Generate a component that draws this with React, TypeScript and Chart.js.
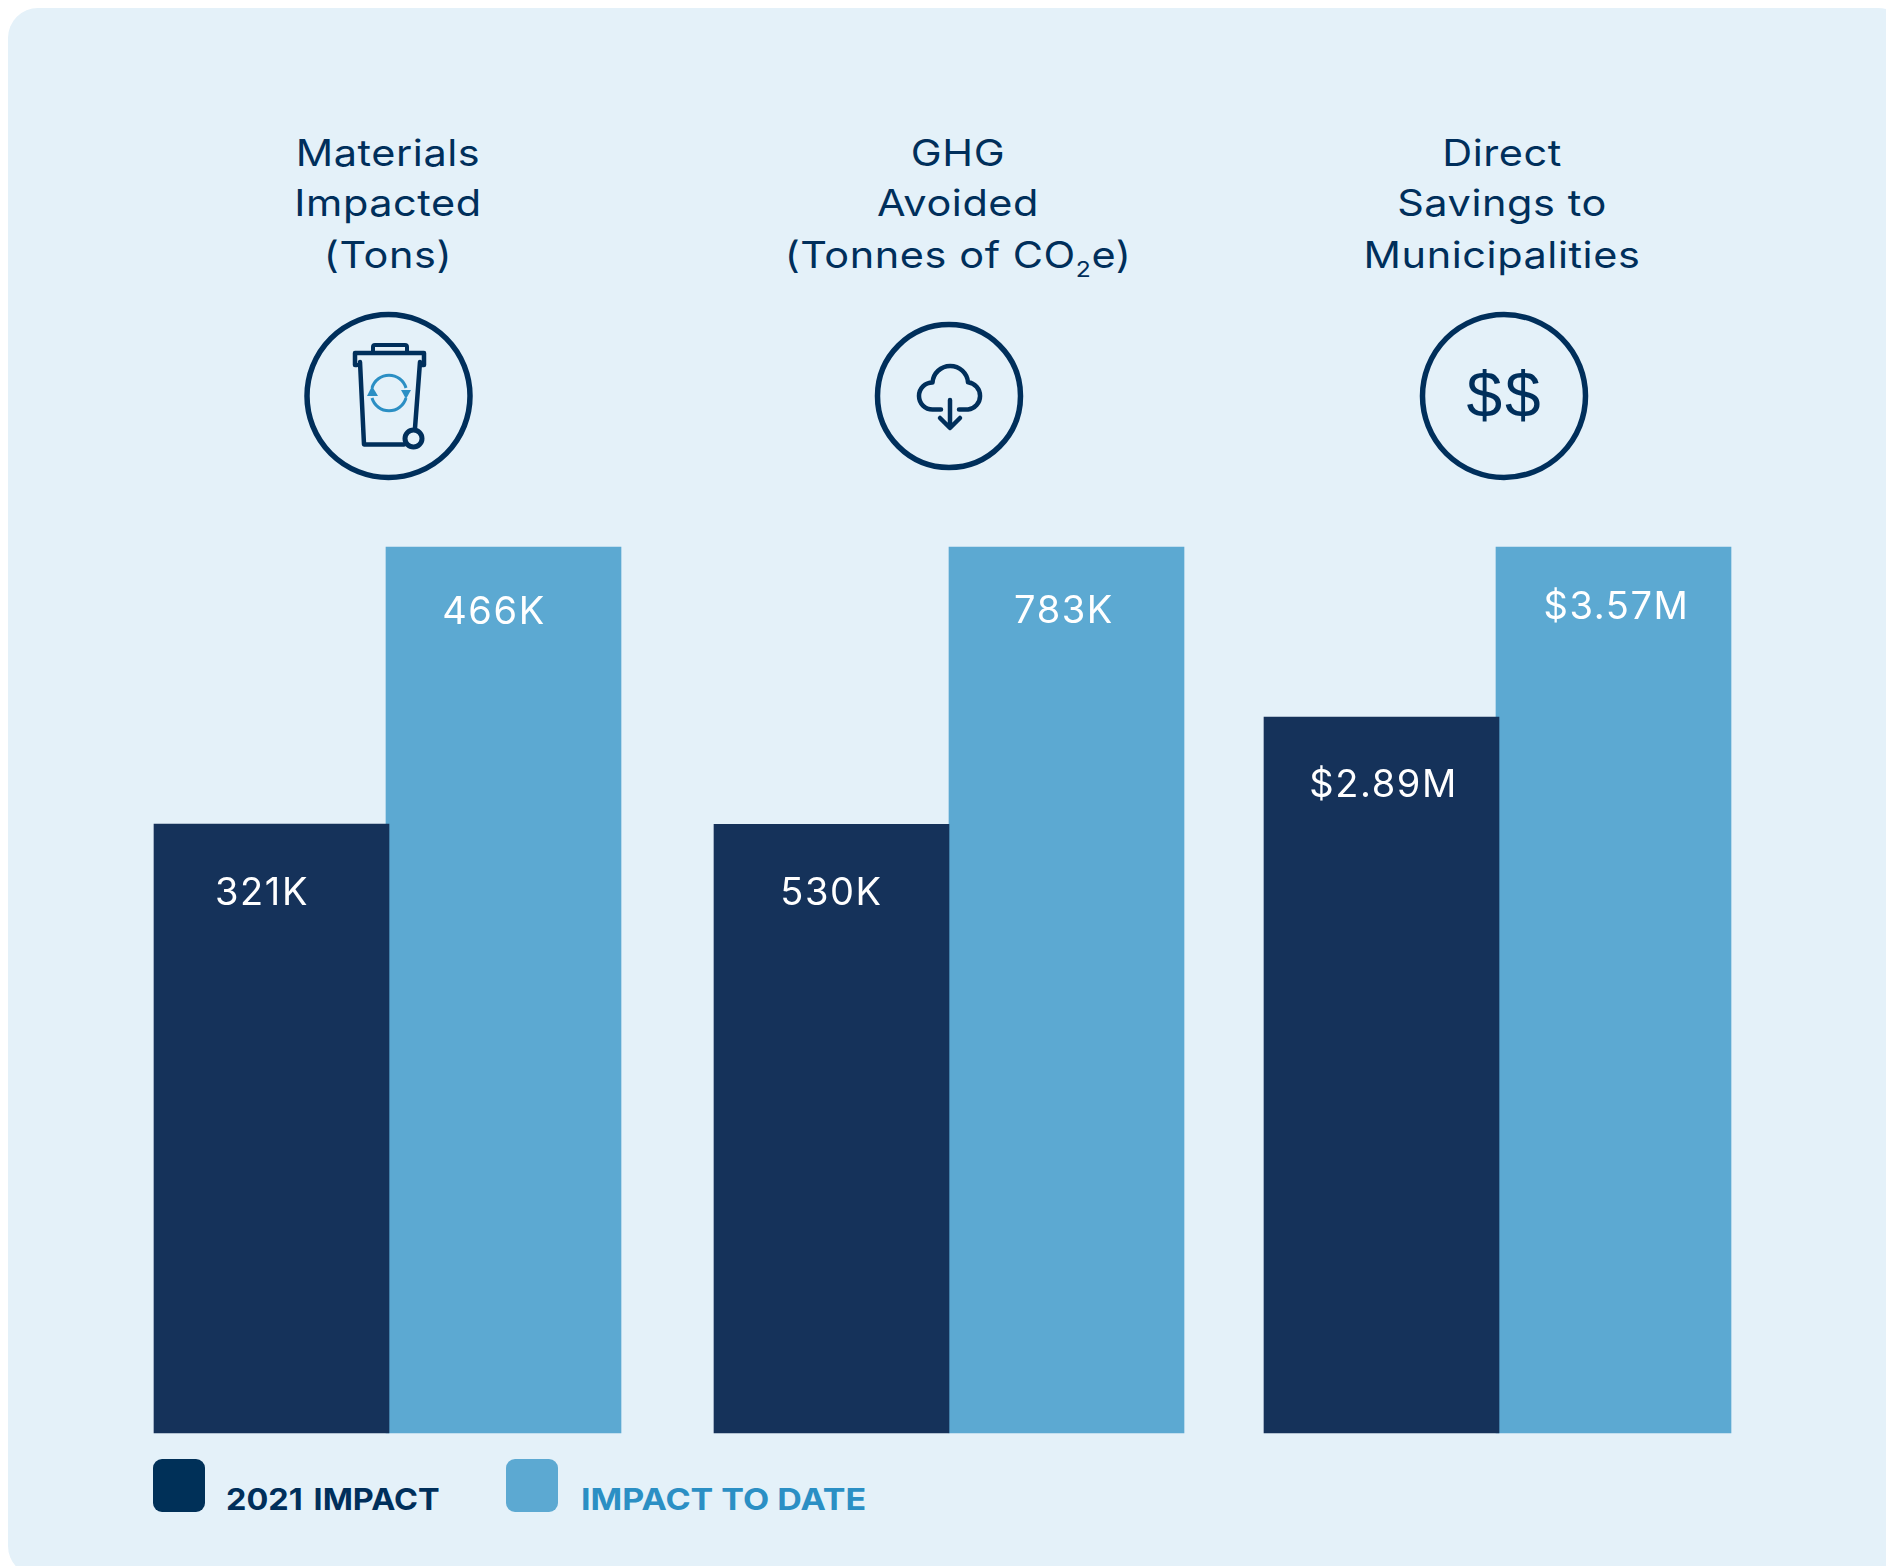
import React, { useEffect, useRef } from "react";
import { Chart, registerables } from "chart.js";

Chart.register(...registerables);

// ---- data ----
const seriesNames = ["2021 IMPACT", "IMPACT TO DATE"];
const impact2021 = [321000, 530000, 2890000];
const impactToDate = [466000, 783000, 3570000];
const impact2021Labels = ["321K", "530K", "$2.89M"];
const impactToDateLabels = ["466K", "783K", "$3.57M"];
const metricTitles = [
  ["Materials", "Impacted", "(Tons)"],
  ["GHG", "Avoided", "(Tonnes of CO|2|e)"],
  ["Direct", "Savings to", "Municipalities"],
];

// ---- styling / layout ----
const FONT = "Inter, 'Noto Sans', sans-serif";
const PANEL = "#E4F1F9";
const NAVY = "#15325A";
const SKY = "#5CA9D2";
const INK = "#002F5B";
const LEGEND_BLUE = "#2B8FC4";
const PAD = 12;
const panels = [
  { left: 155.5, width: 464, titleX: 388, floor: 2300, nudge: [[-9.5, 81], [-9.5, 77]] },
  { left: 714, width: 470, titleX: 958, floor: -25000, nudge: [[0, 81], [-2.5, 76]] },
  { left: 1265.5, width: 464, titleX: 1502, floor: 26000, nudge: [[2, 80], [3, 72]] },
];

const valueLabels = {
  id: "valueLabels",
  afterDatasetsDraw(chart: any, _a: any, opts: any) {
    const ctx = chart.ctx;
    ctx.save();
    ctx.fillStyle = "#FFFFFF";
    ctx.font = `400 38px ${FONT}`;
    ctx.letterSpacing = "1.6px";
    ctx.textAlign = "center";
    ctx.textBaseline = "alphabetic";
    chart.data.datasets.forEach((_d: any, di: number) => {
      const bar = chart.getDatasetMeta(di).data[di];
      const [dx, dy] = opts.nudge[di];
      ctx.fillText(opts.texts[di], bar.x + dx, bar.y + dy);
    });
    ctx.restore();
  },
};

function Panel({ index }: { index: number }) {
  const ref = useRef<HTMLCanvasElement>(null);
  const p = panels[index];
  const frac = p.left % 1;
  const spare = frac ? 1 - frac : 0;
  useEffect(() => {
    const chart = new Chart(ref.current!, {
      type: "bar",
      data: {
        labels: [seriesNames[0], seriesNames[1]],
        datasets: [
          {
            label: seriesNames[0],
            data: [impact2021[index], null],
            backgroundColor: NAVY,
            order: 0,
            base: p.floor,
          },
          {
            label: seriesNames[1],
            data: [null, impactToDate[index]],
            backgroundColor: SKY,
            order: 1,
            base: p.floor,
          },
        ],
      },
      options: {
        animation: false,
        responsive: false,
        datasets: { bar: { grouped: false, barThickness: 235, clip: false } },
        layout: { padding: { left: PAD + frac, right: PAD + spare, top: PAD, bottom: PAD } },
        plugins: {
          legend: { display: false },
          title: { display: false },
          tooltip: { enabled: false },
          valueLabels: {
            texts: [impact2021Labels[index], impactToDateLabels[index]],
            nudge: p.nudge,
          },
        },
        scales: {
          x: { display: false, offset: true },
          y: { display: false, min: p.floor, max: impactToDate[index] },
        },
      } as any,
      plugins: [valueLabels],
    });
    return () => chart.destroy();
  }, []);
  const whole = Math.floor(p.left);
  return (
    <canvas
      ref={ref}
      width={p.width + 2 * PAD + (frac ? 1 : 0)}
      height={886 + 2 * PAD}
      style={{ position: "absolute", left: whole - PAD, top: 547 - PAD }}
    />
  );
}

const titleBoxHeights = [50, 51, 52];
const titleLineHeights = [50, 50, 52];

function Title({ index }: { index: number }) {
  const p = panels[index];
  return (
    <div
      style={{
        position: "absolute",
        left: p.titleX - 250,
        width: 500,
        top: 128,
        textAlign: "center",
        font: `400 37px ${FONT}`,
        letterSpacing: "0.5px",
        color: INK,
        whiteSpace: "nowrap",
        transform: "scaleX(1.12)",
      }}
    >
      {metricTitles[index].map((line, li) => {
        const [a, sub, b] = line.split("|");
        return (
          <div key={line} style={{ lineHeight: `${titleLineHeights[li]}px`, height: titleBoxHeights[li] }}>
            {a}
            {sub && (
              <span style={{ fontSize: 22, position: "relative", top: 9, lineHeight: 0 }}>{sub}</span>
            )}
            {b}
          </div>
        );
      })}
    </div>
  );
}

function Icons() {
  return (
    <svg width={1886} height={560} style={{ position: "absolute", left: 0, top: 0 }}>
      <g fill="none" stroke={INK} strokeWidth={5.5} strokeLinecap="round" strokeLinejoin="round">
        <circle cx={388.5} cy={396} r={81.5} />
        <path d="M373 352 V347 Q373 345 375 345 H405 Q407 345 407 347 V352" strokeWidth={4} />
        <path d="M357 365 H355 V353 H424 V365 H421" strokeWidth={4.5} />
        <path d="M360 362 L364 444.5 H404 M420 362 L415 428" strokeWidth={4.5} />
        <circle cx={413.5} cy={438.5} r={8.5} strokeWidth={5} />
        <circle cx={949} cy={396} r={71.5} />
        <path
          d="M941 409.5 H932.5 A13.5 13.5 0 0 1 932.5 382.5 A17.8 17.8 0 0 1 968 382.3 A13.7 13.7 0 0 1 968 409.5 H959"
          strokeWidth={4.5}
        />
        <path d="M950 400 V427 M940 418 L950 428 L960 418" strokeWidth={4.5} />
        <circle cx={1504} cy={396} r={81.5} />
      </g>
      <g fill="none" stroke={LEGEND_BLUE} strokeWidth={3}>
        <path d="M372 388 A17.7 17.7 0 0 1 406 388" />
        <path d="M372 398 A17.7 17.7 0 0 0 406 398" />
      </g>
      <g fill={LEGEND_BLUE}>
        <path d="M367 396 L372 386 L378 396 Z" />
        <path d="M401 390 L411 390 L406 399 Z" />
      </g>
      <text
        x={1505}
        y={417}
        textAnchor="middle"
        fill={INK}
        style={{ font: "400 64px 'Liberation Sans', sans-serif", letterSpacing: "3px" }}
      >
        $$
      </text>
    </svg>
  );
}

function LegendEntry({ i }: { i: number }) {
  const left = [153, 506][i];
  const swatch = ["#003058", "#5CA9D2"][i];
  const color = [INK, LEGEND_BLUE][i];
  return (
    <>
      <div
        style={{
          position: "absolute",
          left,
          top: 1459,
          width: 52,
          height: 53,
          borderRadius: 9,
          background: swatch,
        }}
      />
      <div
        style={{
          position: "absolute",
          left: left + (i === 0 ? 73 : 75),
          top: 1481,
          font: `700 30px/36px ${FONT}`,
          wordSpacing: i === 0 ? "3px" : "0",
          color,
          whiteSpace: "nowrap",
          transformOrigin: "left center",
          transform: `scaleX(${[1.08, 1.134][i]})`,
        }}
      >
        {seriesNames[i]}
      </div>
    </>
  );
}

export default function App() {
  return (
    <div
      style={{
        position: "absolute",
        left: 0,
        top: 0,
        width: 1886,
        height: 1566,
        overflow: "hidden",
        background: "#FFFFFF",
      }}
    >
      <div
        style={{
          position: "absolute",
          left: 8,
          top: 8,
          width: 1900,
          height: 1568,
          borderRadius: 30,
          background: PANEL,
        }}
      />
      <Icons />
      {panels.map((_, i) => (
        <Title key={i} index={i} />
      ))}
      {panels.map((_, i) => (
        <Panel key={i} index={i} />
      ))}
      <LegendEntry i={0} />
      <LegendEntry i={1} />
    </div>
  );
}
